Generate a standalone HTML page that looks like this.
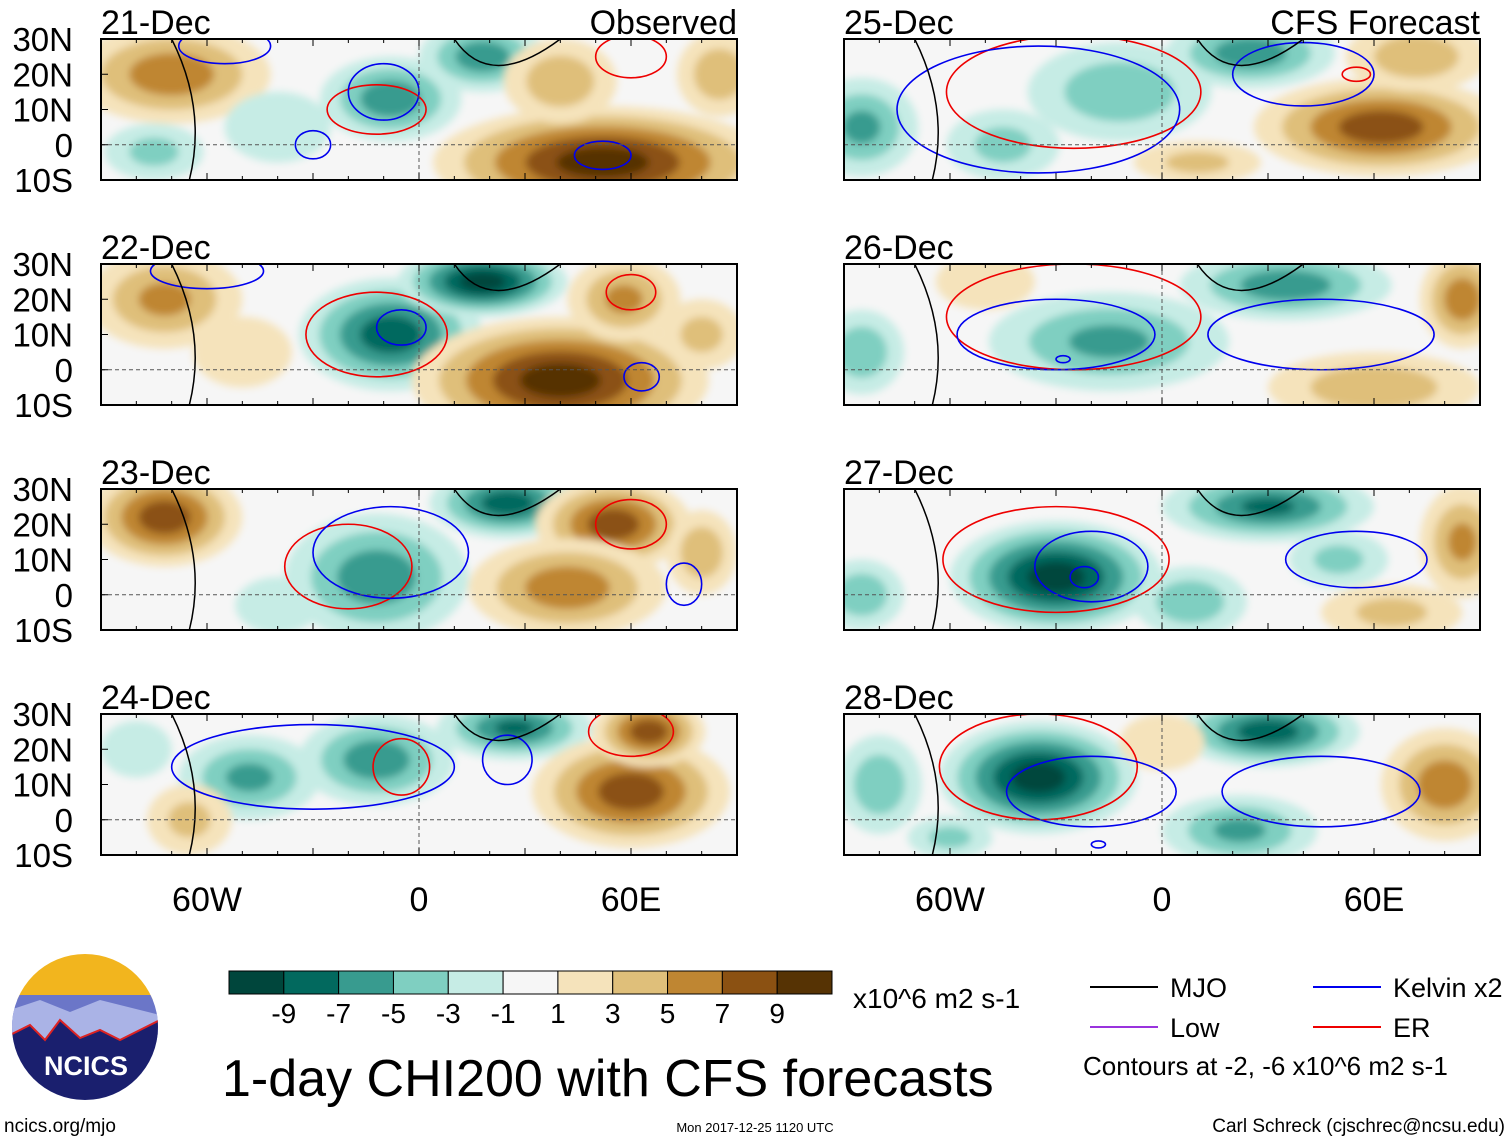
<!DOCTYPE html>
<html><head><meta charset="utf-8"><style>
body{margin:0;background:#fff;width:1510px;height:1142px;overflow:hidden;font-family:"Liberation Sans",sans-serif}
svg text{font-family:"Liberation Sans",sans-serif}
</style></head><body>
<svg id="s" width="1510" height="1142" xmlns="http://www.w3.org/2000/svg">
<defs><filter id="bl" x="-20%" y="-20%" width="140%" height="140%"><feGaussianBlur stdDeviation="4"/></filter></defs>
</svg>
<script>
// Data
const levels=[-9,-7,-5,-3,-1,1,3,5,7,9];
const palette=["#00463c","#02695e","#389b8f","#7fcfc1","#c6ece5","#f6f6f6","#f5e3bb","#dfbf7a","#bf8632","#8b5112","#563304"];
const dates=["21-Dec","22-Dec","23-Dec","24-Dec","25-Dec","26-Dec","27-Dec","28-Dec"];
const latTicks=["30N","20N","10N","0","10S"];
const lonTicks=["60W","0","60E"];
const lonTickVals=[-60,0,60];
// blobs: [lon, lat, radiusLon, radiusLat, peak value]
const blobs=[
[[-70,20,28,14,6],[-8,13,20,12,-6],[18,25,18,10,-6],[52,-5,48,16,10],[40,18,16,12,4],[-75,-2,14,8,-3],[85,20,12,12,4],[-40,5,15,10,-2]],
[[-72,20,22,14,5],[-8,10,26,16,-8],[18,25,24,10,-10],[40,-3,42,18,10],[58,20,16,12,5],[-50,5,14,10,2],[80,10,12,10,3]],
[[-72,22,22,14,8],[-12,5,26,18,-6],[25,26,22,10,-8],[55,20,22,13,8],[42,2,28,14,6],[80,12,10,12,4],[-40,-3,12,8,-2]],
[[-48,12,20,12,-5],[-12,17,22,13,-6],[27,26,22,9,-7],[60,8,28,16,8],[65,25,16,10,8],[-65,0,12,10,3],[-80,20,10,8,-2]],
[[-85,5,16,14,-5],[-12,15,26,14,-4],[25,26,24,10,-6],[62,5,36,14,8],[72,25,20,10,4],[-45,0,16,10,-3],[10,-5,18,6,3]],
[[-15,8,34,14,-5],[35,24,30,10,-6],[85,20,12,14,6],[-85,5,12,12,-4],[60,-5,30,10,4],[-50,25,14,8,2]],
[[-30,5,30,16,-10],[30,25,30,10,-7],[85,15,12,16,5],[8,-2,16,10,-4],[-85,0,12,10,-4],[65,-5,20,8,3],[50,10,14,8,-3]],
[[-35,12,28,16,-10],[30,25,26,10,-8],[80,10,18,16,6],[22,-3,22,10,-5],[-80,10,12,14,-4],[0,22,12,8,2],[-60,-5,12,6,-3]]
];
// contours: [lon, lat, rLon, rLat, colorIndex]  0 MJO,1 Kelvin,2 Low,3 ER
const contours=[
[[-12,10,14,7,3],[-10,15,10,8,1],[-30,0,5,4,1],[52,-3,8,4,1],[60,25,10,6,3],[-55,28,13,5,1]],
[[-12,10,20,12,3],[-5,12,7,5,1],[60,22,7,5,3],[63,-2,5,4,1],[-60,28,16,5,1]],
[[-20,8,18,12,3],[-8,12,22,13,1],[75,3,5,6,1],[60,20,10,7,3]],
[[-30,15,40,12,1],[-5,15,8,8,3],[60,25,12,7,3],[25,17,7,7,1]],
[[-25,15,36,16,3],[-35,10,40,18,1],[40,20,20,9,1],[55,20,4,2,3]],
[[-25,15,36,15,3],[-30,10,28,10,1],[45,10,32,10,1],[-28,3,2,1,1]],
[[-30,10,32,15,3],[-20,8,16,10,1],[-22,5,4,3,1],[55,10,20,8,1]],
[[-35,15,28,15,3],[-20,8,24,10,1],[-18,-7,2,1,1],[45,8,28,10,1]]
];
const cColors=["#000","#0000ee","#9933dd","#ee0000"];
const S=document.getElementById('s');const NS="http://www.w3.org/2000/svg";
function el(t,a,p){const e=document.createElementNS(NS,t);for(const k in a)e.setAttribute(k,a[k]);(p||S).appendChild(e);return e;}
function txt(x,y,s,sz,anchor,p){const t=el('text',{x:x,y:y,'font-size':sz,'text-anchor':anchor||'start',fill:'#000'},p);t.textContent=s;return t;}
function colorFor(v){let i=0;while(i<levels.length&&v>levels[i])i++;return palette[i];}
const PW=636,PH=141,rows=[39,264,489,714],cols=[101,844];
for(let p=0;p<8;p++){
 const x0=cols[p<4?0:1],y0=rows[p%4];
 const X=lon=>x0+(lon+90)/180*PW, Y=lat=>y0+(30-lat)/40*PH;
 const g=el('g',{});
 
 
 el('clipPath',{id:'c'+p},g);el('rect',{x:x0,y:y0,width:PW,height:PH},g.lastChild);
 const cg=el('g',{'clip-path':'url(#c'+p+')'},g);
 el('rect',{x:x0,y:y0,width:PW,height:PH,fill:palette[5]},cg);
 const fg=el('g',{filter:'url(#bl)'},cg);
 blobs[p].forEach(b=>{const v=b[4],sgn=Math.sign(v),m=Math.abs(v);
  for(let l=1;l<=m;l+=2){const f=1-(l-1)/(m+1);
   const e=el('ellipse',{cx:X(b[0]),cy:Y(b[1]),rx:b[2]*f*PW/180,ry:b[3]*f*PH/40,fill:colorFor(sgn*(l+0.5))},fg);
   }
 });
 contours[p].forEach(c=>{const e=el('ellipse',{cx:X(c[0]),cy:Y(c[1]),rx:c[2]*PW/180,ry:c[3]*PH/40,fill:'none',stroke:cColors[c[4]],'stroke-width':1.6},cg);
  });
 el('path',{d:`M${X(-70)} ${y0} Q${X(-60)} ${Y(10)} ${X(-65)} ${y0+PH}`,fill:'none',stroke:'#000','stroke-width':1.5},cg);
 el('path',{d:`M${X(10)} ${y0} Q${X(20)} ${Y(15)} ${X(40)} ${y0}`,fill:'none',stroke:'#000','stroke-width':1.5},cg);
 el('line',{x1:x0,y1:Y(0),x2:x0+PW,y2:Y(0),stroke:'#555','stroke-dasharray':'4,3','stroke-width':1},cg);
 el('line',{x1:X(0),y1:y0,x2:X(0),y2:y0+PH,stroke:'#555','stroke-dasharray':'4,3','stroke-width':1},cg);
 el('rect',{x:x0,y:y0,width:PW,height:PH,fill:'none',stroke:'#000','stroke-width':2},g);
 for(let lo=-90;lo<=90;lo+=10){const L=(lo%30==0)?7:4;el('line',{x1:X(lo),y1:y0,x2:X(lo),y2:y0+L,stroke:'#000'},g);el('line',{x1:X(lo),y1:y0+PH,x2:X(lo),y2:y0+PH-L,stroke:'#000'},g);}
 const dl=txt(x0,y0-5,dates[p],34,'start',g);
 if(p==0){txt(x0+PW,y0-5,"Observed",34,'end',g);}
 if(p==4){txt(x0+PW,y0-5,"CFS Forecast",34,'end',g);}
 if(p<4){latTicks.forEach((t,i)=>{const lt=txt(x0-28,y0+i*PH/4+12,t,33,'end',g);});
  latTicks.forEach((t,i)=>{el('line',{x1:x0,y1:y0+i*PH/4,x2:x0+7,y2:y0+i*PH/4,stroke:'#000'},g);});}
 if(p%4==3){lonTicks.forEach((t,i)=>{const lt=txt(X(lonTickVals[i]),911,t,34,'middle',g);});}
}
const cb=el('g',{});
const bw=603/11;
palette.forEach((c,i)=>el('rect',{x:229+i*bw,y:971,width:bw,height:23,fill:c,stroke:'#000','stroke-width':1},cb));
levels.forEach((l,i)=>txt(229+(i+1)*bw,1023,String(l),28,'middle',cb));
txt(853,1008,"x10^6 m2 s-1",28,'start',cb);
const tt=txt(222,1096,"1-day CHI200 with CFS forecasts",52,'start');
const lg=el('g',{});
[["MJO",1090,987,0],["Kelvin x2",1313,987,1],["Low",1090,1027,2],["ER",1313,1027,3]].forEach(e=>{
 el('line',{x1:e[1],y1:e[2],x2:e[1]+68,y2:e[2],stroke:cColors[e[3]],'stroke-width':2},lg);
 txt(e[1]+80,e[2]+10,e[0],27,'start',lg);});
txt(1083,1075,"Contours at -2, -6 x10^6 m2 s-1",26,'start',lg);
txt(4,1132,"ncics.org/mjo",19,'start');
txt(755,1132,"Mon 2017-12-25 1120 UTC",13,'middle');
txt(1505,1132,"Carl Schreck (cjschrec@ncsu.edu)",19,'end');
const lo=el('g',{});
el('clipPath',{id:'lc'},lo);el('circle',{cx:85,cy:1027,r:73},lo.lastChild);
const lc=el('g',{'clip-path':'url(#lc)'},lo);
el('rect',{x:0,y:950,width:170,height:50,fill:'#f2b51e'},lc);
el('rect',{x:0,y:995,width:170,height:45,fill:'#6b76c8'},lc);
el('path',{d:'M10 1010 L40 1000 L70 1012 L100 1000 L160 1015 L160 1040 L10 1040Z',fill:'#aab3e6'},lc);
el('path',{d:'M10 1035 L30 1025 L45 1040 L60 1020 L80 1038 L100 1030 L120 1040 L160 1020 L160 1110 L10 1110Z',fill:'#1a1f6e',stroke:'#d22',"stroke-width":2},lc);
const nt=txt(86,1075,"NCICS",27,'middle',lo);nt.setAttribute('fill','#fff');nt.setAttribute('font-weight','bold');
</script>
</body></html>
